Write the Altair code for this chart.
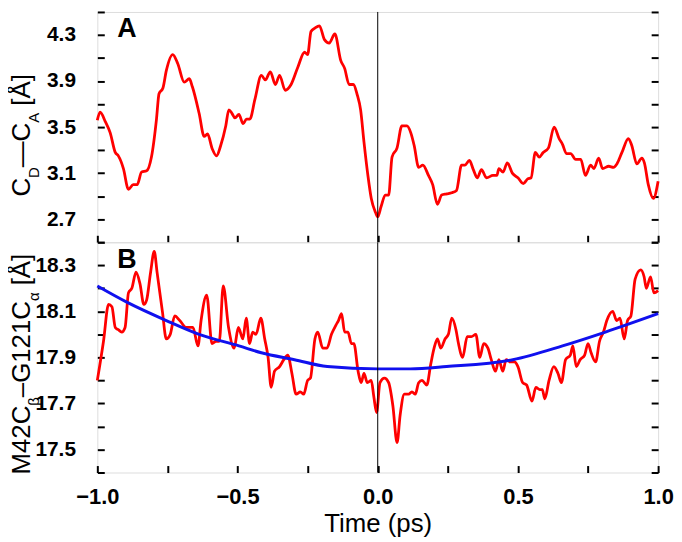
import altair as alt
import pandas as pd

FONT = "Liberation Sans"

# ---- Panel A: C_D–C_A distance (Å) vs time (ps)
top_t = [-1.000, -0.990, -0.972, -0.954, -0.936, -0.925, -0.907, -0.889, -0.872, -0.858,
         -0.842, -0.824, -0.807, -0.789, -0.780, -0.766, -0.754, -0.731, -0.713, -0.690,
         -0.672, -0.661, -0.637, -0.619, -0.607, -0.590, -0.575, -0.560, -0.542, -0.531,
         -0.520, -0.509, -0.495, -0.480, -0.468, -0.456, -0.438, -0.415, -0.401, -0.383,
         -0.365, -0.350, -0.330, -0.309, -0.285, -0.261, -0.250, -0.238, -0.224, -0.208,
         -0.190, -0.173, -0.153, -0.132, -0.118, -0.102, -0.087, -0.073, -0.061, -0.049,
         -0.035, -0.023, -0.008, 0.000, 0.012, 0.027, 0.039, 0.051, 0.069, 0.086,
         0.104, 0.118, 0.130, 0.146, 0.161, 0.181, 0.196, 0.213, 0.228, 0.246,
         0.264, 0.281, 0.299, 0.311, 0.327, 0.341, 0.355, 0.370, 0.388, 0.411,
         0.425, 0.432, 0.447, 0.462, 0.480, 0.500, 0.519, 0.535, 0.547, 0.562,
         0.576, 0.590, 0.609, 0.629, 0.647, 0.659, 0.673, 0.688, 0.706, 0.724,
         0.741, 0.759, 0.771, 0.788, 0.802, 0.824, 0.841, 0.853, 0.871, 0.894,
         0.906, 0.924, 0.942, 0.951, 0.965, 0.983, 1.000]
top_v = [3.56, 3.63, 3.55, 3.45, 3.28, 3.25, 3.14, 2.96, 3.00, 3.00,
         3.11, 3.12, 3.24, 3.57, 3.79, 3.84, 3.99, 4.13, 4.05, 3.89,
         3.92, 3.85, 3.62, 3.42, 3.44, 3.31, 3.25, 3.34, 3.51, 3.65,
         3.62, 3.58, 3.61, 3.53, 3.57, 3.57, 3.74, 3.95, 3.91, 3.98,
         3.87, 3.95, 3.82, 3.87, 4.02, 4.15, 4.13, 4.33, 4.36, 4.38,
         4.26, 4.23, 4.31, 4.08, 4.01, 3.87, 3.87, 3.78, 3.65, 3.37,
         3.08, 2.88, 2.76, 2.72, 2.81, 2.91, 2.91, 3.24, 3.32, 3.51,
         3.51, 3.45, 3.34, 3.15, 3.17, 3.08, 3.00, 2.83, 2.91, 2.92,
         2.93, 2.95, 3.17, 3.17, 3.21, 3.13, 3.06, 3.13, 3.06, 3.08,
         3.08, 3.14, 3.11, 3.19, 3.10, 3.06, 3.01, 3.05, 3.06, 3.28,
         3.24, 3.28, 3.32, 3.50, 3.40, 3.35, 3.27, 3.27, 3.22, 3.22,
         3.08, 3.17, 3.14, 3.23, 3.14, 3.16, 3.15, 3.18, 3.28, 3.40,
         3.34, 3.18, 3.23, 3.19, 3.00, 2.88, 3.03]

# ---- Panel B: M42Cβ–G121Cα distance (Å) vs time (ps)
bot_t = [-1.000, -0.978, -0.960, -0.948, -0.936, -0.925, -0.913, -0.901, -0.889, -0.877,
         -0.862, -0.848, -0.834, -0.824, -0.810, -0.797, -0.787, -0.768, -0.754, -0.740,
         -0.724, -0.706, -0.683, -0.659, -0.641, -0.630, -0.610, -0.591, -0.577, -0.565,
         -0.551, -0.532, -0.512, -0.497, -0.481, -0.469, -0.457, -0.446, -0.434, -0.417,
         -0.403, -0.391, -0.380, -0.368, -0.350, -0.335, -0.321, -0.306, -0.291, -0.276,
         -0.264, -0.250, -0.240, -0.224, -0.214, -0.196, -0.181, -0.165, -0.149, -0.140,
         -0.129, -0.118, -0.106, -0.094, -0.085, -0.070, -0.059, -0.049, -0.037, -0.023,
         -0.014, -0.004, 0.008, 0.024, 0.039, 0.054, 0.069, 0.080, 0.095, 0.110,
         0.122, 0.134, 0.146, 0.158, 0.175, 0.189, 0.201, 0.213, 0.225, 0.240,
         0.252, 0.264, 0.279, 0.288, 0.303, 0.319, 0.334, 0.350, 0.364, 0.378,
         0.393, 0.405, 0.420, 0.432, 0.446, 0.458, 0.472, 0.487, 0.500, 0.517,
         0.531, 0.550, 0.564, 0.578, 0.587, 0.596, 0.611, 0.628, 0.643, 0.655,
         0.670, 0.687, 0.696, 0.708, 0.722, 0.738, 0.750, 0.761, 0.777, 0.791,
         0.805, 0.817, 0.838, 0.852, 0.864, 0.879, 0.891, 0.903, 0.918, 0.938,
         0.950, 0.958, 0.973, 0.985, 1.000]
bot_v = [17.80, 17.97, 18.13, 18.12, 18.03, 18.02, 18.01, 18.03, 18.18, 18.20,
         18.27, 18.22, 18.13, 18.15, 18.27, 18.36, 18.27, 18.10, 17.98, 18.00,
         18.08, 18.06, 18.03, 18.03, 17.95, 18.06, 18.17, 17.96, 17.97, 17.97,
         18.21, 18.03, 17.94, 18.03, 17.98, 18.07, 17.96, 18.01, 18.00, 18.07,
         17.98, 17.90, 17.77, 17.84, 17.86, 17.89, 17.91, 17.83, 17.74, 17.75,
         17.74, 17.80, 17.81, 17.98, 18.01, 17.94, 17.94, 18.00, 18.04, 18.06,
         18.09, 18.01, 18.01, 17.96, 17.96, 17.84, 17.79, 17.83, 17.79, 17.80,
         17.73, 17.66, 17.79, 17.81, 17.79, 17.69, 17.53, 17.65, 17.74, 17.74,
         17.75, 17.74, 17.79, 17.80, 17.78, 17.87, 17.94, 17.98, 17.94, 17.98,
         18.00, 18.07, 18.02, 17.96, 17.90, 17.99, 17.99, 18.00, 17.90, 17.96,
         17.94, 17.89, 17.84, 17.89, 17.84, 17.89, 17.88, 17.88, 17.86, 17.79,
         17.78, 17.71, 17.77, 17.76, 17.76, 17.72, 17.80, 17.86, 17.83, 17.79,
         17.89, 17.91, 17.95, 17.86, 17.89, 17.91, 17.96, 17.92, 17.88, 17.97,
         18.01, 18.06, 18.10, 18.06, 18.07, 17.98, 18.06, 18.08, 18.24, 18.28,
         18.25, 18.20, 18.25, 18.18, 18.19]

# ---- Smooth fit curve (blue)
fit_t = [-1.000, -0.895, -0.754, -0.637, -0.495, -0.415, -0.297, -0.180, 0.000,
         0.116, 0.246, 0.482, 0.659, 0.812, 1.000]
fit_v = [18.21, 18.14, 18.06, 18.00, 17.95, 17.92, 17.89, 17.86, 17.85,
         17.85, 17.86, 17.89, 17.95, 18.01, 18.09]

marker_t = [0.0]

x_label_values = [-1.0, -0.5, 0.0, 0.5, 1.0]
x_tick_values = [-1.0, -0.75, -0.5, -0.25, 0.0, 0.25, 0.5, 0.75, 1.0]
top_label_values = [2.7, 3.1, 3.5, 3.9, 4.3]
top_tick_values = [2.5, 2.7, 2.9, 3.1, 3.3, 3.5, 3.7, 3.9, 4.1, 4.3, 4.5]
bot_label_values = [17.5, 17.7, 17.9, 18.1, 18.3]
bot_tick_values = [17.4, 17.5, 17.6, 17.7, 17.8, 17.9, 18.0, 18.1, 18.2, 18.3, 18.4]

top_df = pd.DataFrame({"t": top_t, "v": top_v})
bot_df = pd.DataFrame({"t": bot_t, "v": bot_v})
fit_df = pd.DataFrame({"t": fit_t, "v": fit_v})
mark_df = pd.DataFrame({"t": marker_t})

W = 565
H = 232
TICK = 7


def tick_axis(orient, values):
    return alt.Axis(orient=orient, offset=-TICK, values=values, tickSize=TICK, tickWidth=2,
                    tickColor="black", labels=False, domain=False, grid=False, title=None)


def label_axis(orient, values, size, pad, title=None):
    kw = dict(orient=orient, values=values, format=".1f", ticks=False, tickSize=0,
              domain=False, grid=False, labelFont=FONT, labelFontSize=size,
              labelFontWeight="bold", labelColor="black", labelPadding=pad,
              labelFlush=False)
    if title is None:
        kw["title"] = None
    else:
        kw.update(title=title, titleFont=FONT, titleFontSize=26, titleFontWeight="normal",
                  titleColor="black", titlePadding=3)
    return alt.Axis(**kw)


def title_layers(segments, x0, y0):
    layers = []
    for text, size, dx, dy in segments:
        layers.append(
            alt.Chart(pd.DataFrame({"s": [text]})).mark_text(
                angle=270, align="left", baseline="alphabetic", font=FONT,
                fontSize=size, color="black", dx=dx, dy=dy
            ).encode(x=alt.value(x0), y=alt.value(y0), text="s:N")
        )
    return layers


def letter_layer(letter, y):
    return alt.Chart(pd.DataFrame({"s": [letter]})).mark_text(
        align="left", baseline="alphabetic", font=FONT, fontSize=27,
        fontWeight="bold", color="black"
    ).encode(x=alt.value(20), y=alt.value(y), text="s:N")


def panel(df, ydom, label_vals, tick_vals, x_labels, extra, letter, letter_y, title_segs, tx, ty):
    xs = alt.Scale(domain=[-1, 1], nice=False, zero=False)
    ys = alt.Scale(domain=ydom, nice=False, zero=False)
    if x_labels:
        main_x = label_axis("bottom", x_label_values, 22, 14, title="Time (ps)")
        second_x = tick_axis("bottom", x_tick_values)
    else:
        main_x = tick_axis("bottom", x_tick_values)
        second_x = None
    main = alt.Chart(df).mark_line(color="#ff0000", strokeWidth=2.8,
                                   interpolate="monotone").encode(
        x=alt.X("t:Q", scale=xs, axis=main_x),
        y=alt.Y("v:Q", scale=ys, axis=label_axis("left", label_vals, 21, 22)),
    )
    left_ticks = alt.Chart(df).mark_line(opacity=0).encode(
        x=alt.X("t:Q", scale=xs, axis=second_x),
        y=alt.Y("v:Q", scale=ys, axis=tick_axis("left", tick_vals)),
    )
    right_ticks = alt.Chart(df).mark_line(opacity=0).encode(
        x=alt.X("t:Q", scale=xs, axis=None),
        y=alt.Y("v:Q", scale=ys, axis=tick_axis("right", tick_vals)),
    )
    rule = alt.Chart(mark_df).mark_rule(color="black", strokeWidth=1).encode(
        x=alt.X("t:Q", scale=xs, axis=None)
    )
    layers = [main, left_ticks, right_ticks]
    for e in extra:
        layers.append(e.encode(x=alt.X("t:Q", scale=xs, axis=None),
                               y=alt.Y("v:Q", scale=ys, axis=None)))
    layers.append(rule)
    layers.append(letter_layer(letter, letter_y))
    layers += title_layers(title_segs, tx, ty)
    return alt.layer(*layers).resolve_axis(x="independent", y="independent").properties(
        width=W, height=H)


top_title = [("C", 26, 0, 0), ("D", 15, 18.8, 9), ("\u2014", 26, 29.6, 0),
             ("C", 26, 55.6, 0), ("A", 15, 74.4, 9), ("[\u00c5]", 26, 91.6, 0)]
bot_title = [("M42C", 26, 0, 0), ("\u03b2", 15, 69.3, 9), ("\u2013G121C", 26, 77.9, 0),
             ("\u03b1", 15, 174.7, 9), ("[\u00c5]", 26, 190.6, 0)]

fit_layer = alt.Chart(fit_df).mark_line(color="#1010ee", strokeWidth=3, interpolate="monotone")

top = panel(top_df, [2.5, 4.5], top_label_values, top_tick_values, False, [],
            "A", 25, top_title, -68, 186)
bottom = panel(bot_df, [17.4, 18.4], bot_label_values, bot_tick_values, True, [fit_layer],
               "B", 26, bot_title, -68, 234)

chart = alt.vconcat(top, bottom, spacing=0, bounds="flush").configure_view(
    stroke="black", strokeWidth=2
).configure(font=FONT).properties(
    padding={"left": 0, "top": 0, "right": 0, "bottom": 0}
)

chart.save("out.html", embed_options={"renderer": "svg", "actions": False})
